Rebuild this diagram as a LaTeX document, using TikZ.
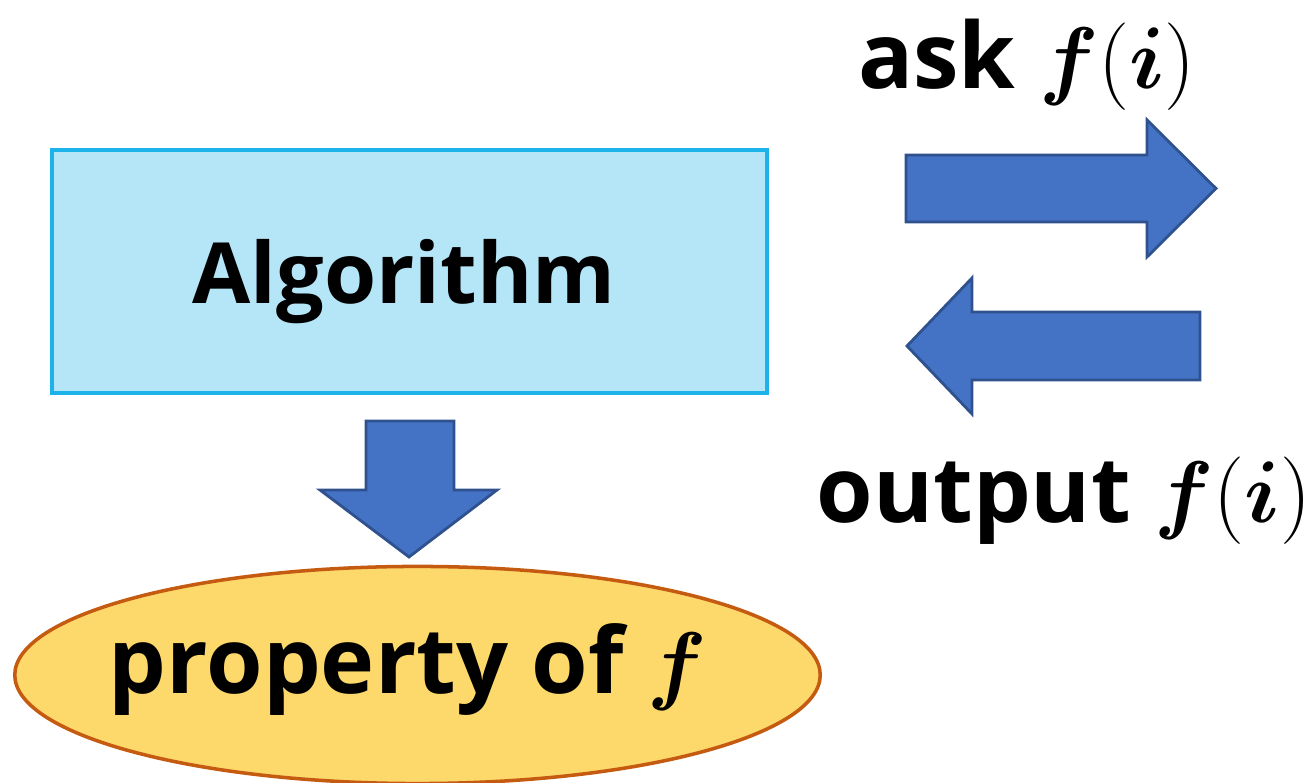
\documentclass[tikz,border=0pt]{standalone}
\usepackage{amsmath,amssymb}
\usepackage{fontspec}
\setmainfont{Open Sans}
\usepackage{tikz}
\usetikzlibrary{shapes,positioning,calc}

\definecolor{algfill}{HTML}{B4E6F8}
\definecolor{algline}{HTML}{1CB3EA}
\definecolor{propfill}{HTML}{FDD86A}
\definecolor{propline}{HTML}{C55A11}
\definecolor{arrfill}{HTML}{4472C4}
\definecolor{arrline}{HTML}{2F528F}

\tikzset{
  bigarrow/.style={fill=arrfill, draw=arrline, line width=0.8pt, line join=miter},
  label/.style={font=\fontsize{26}{30}\selectfont\bfseries, inner sep=0pt}
}

\begin{document}
\begin{tikzpicture}[x=0.01cm, y=-0.01cm]
    \useasboundingbox (0,0) rectangle (1315,783);
    \node[draw=algline, fill=algfill, line width=1pt, minimum width=7.15cm, minimum height=2.43cm, inner sep=0pt] (alg) at (409.5,271.5) {};
    \node[label, font=\fontsize{24}{28}\selectfont\bfseries] (algtext) at (404,282) {Algorithm};
    \node[ellipse, draw=propline, fill=propfill, line width=1pt, minimum width=8.05cm, minimum height=2.17cm, inner sep=0pt] (prop) at (417.5,675) {};
    \node[label] (proptext) at (408,670) {property of $\boldsymbol{f}$};
    % arrows
    \draw[bigarrow] (906,155) -- (1147,155) -- (1147,120) -- (1216,188.5) -- (1147,257) -- (1147,222) -- (906,222) -- cycle;
    \draw[bigarrow] (1200,312) -- (972,312) -- (972,278) -- (907,346) -- (972,414) -- (972,380) -- (1200,380) -- cycle;
    \draw[bigarrow] (366,421) -- (454,421) -- (454,490) -- (497,490) -- (409,557) -- (320,490) -- (366,490) -- cycle;
    \node[label] (ask) at (1027,65) {ask $\boldsymbol{f}(\boldsymbol{i})$};
    \node[label] (out) at (1064,501) {output $\boldsymbol{f}(\boldsymbol{i})$};
\end{tikzpicture}
\end{document}
